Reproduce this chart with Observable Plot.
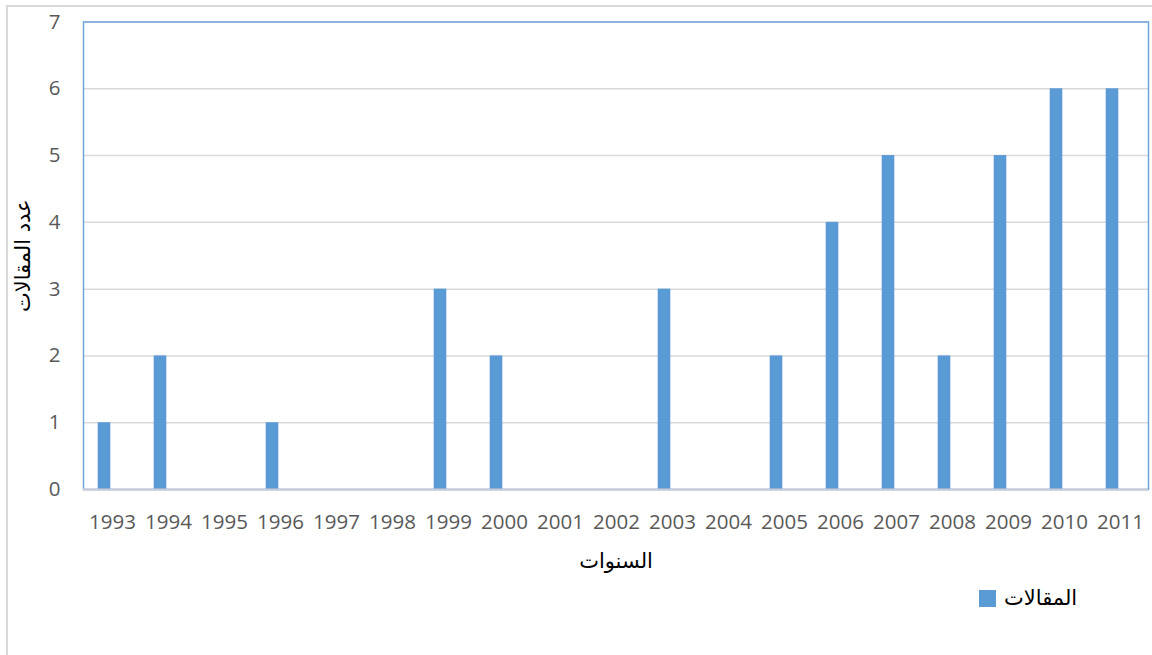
<!DOCTYPE html>
<html>
<head>
<meta charset="utf-8">
<script src="https://cdn.jsdelivr.net/npm/d3@7"></script>
<script src="https://cdn.jsdelivr.net/npm/@observablehq/plot@0.6"></script>
<style>
  html, body { margin: 0; padding: 0; background: #fff; }
  body { width: 1152px; height: 655px; position: relative; overflow: hidden; font-family: "Open Sans", "DejaVu Sans", sans-serif; }
  #frame { position: absolute; left: 6px; top: 5px; width: 1160px; height: 670px; border-left: 2px solid #d9d9d9; border-top: 2px solid #d9d9d9; }
  #chart { position: absolute; left: 0; top: 0; }
  #legend { position: absolute; left: 979px; top: 586px; display: flex; align-items: center; gap: 8px; font-family: "DejaVu Sans", sans-serif; font-size: 21px; color: #000; }
  #legend .sw { width: 17px; height: 17px; background: #5B9BD5; }
</style>
</head>
<body>
<div id="frame"></div>
<div id="chart"></div>
<div id="legend"><span class="sw"></span><span dir="rtl">المقالات</span></div>
<script>
const years = ["1993","1994","1995","1996","1997","1998","1999","2000","2001","2002","2003","2004","2005","2006","2007","2008","2009","2010","2011"];
const articles = [1, 2, 0, 1, 0, 0, 3, 2, 0, 0, 3, 0, 2, 4, 5, 2, 5, 6, 6];
const yTicks = [0, 1, 2, 3, 4, 5, 6, 7];
const seriesName = "المقالات";
const xTitle = "السنوات";
const yTitle = "عدد المقالات";

const data = years.map((y, i) => ({year: y, value: articles[i]}));

const chart = Plot.plot({
  width: 1152,
  height: 580,
  marginLeft: 83,
  marginRight: 4,
  marginTop: 21.5,
  marginBottom: 91,
  style: {fontFamily: '"Open Sans", "DejaVu Sans", sans-serif', fontSize: "20px", color: "#595959", background: "transparent"},
  x: {domain: years, padding: 0},
  y: {domain: [0, 7]},
  marks: [
    Plot.gridY(yTicks, {stroke: "#d9d9d9", strokeOpacity: 1, strokeWidth: 1.5}),
    Plot.frame({stroke: "#6fa5dc", strokeWidth: 1.5}),
    Plot.barY(data, {x: "year", y: "value", fill: "#5B9BD5", insetLeft: 13.7, insetRight: 29.7}),
    Plot.ruleY([0], {stroke: "#c8ccd4", strokeWidth: 2}),
    Plot.axisY(yTicks, {tickSize: 0, tickPadding: 23, fill: "#595959", fontSize: 20.5, tickFormat: d3.format("d"),
      label: yTitle, labelAnchor: "center", labelOffset: 68, labelArrow: "none"}),
    Plot.axisX({tickSize: 0, tickPadding: 25, fill: "#595959", fontSize: 20.5,
      label: xTitle, labelAnchor: "center", labelOffset: 78, labelArrow: "none"})
  ]
});
document.getElementById("chart").appendChild(chart);
// style axis titles (Arabic) black
chart.querySelectorAll("text").forEach(t => {
  if (t.textContent === xTitle || t.textContent === yTitle) {
    t.setAttribute("fill", "#000");
    t.style.fontFamily = '"DejaVu Sans", sans-serif';
    t.style.fontSize = "21px";
  }
});
</script>
</body>
</html>
